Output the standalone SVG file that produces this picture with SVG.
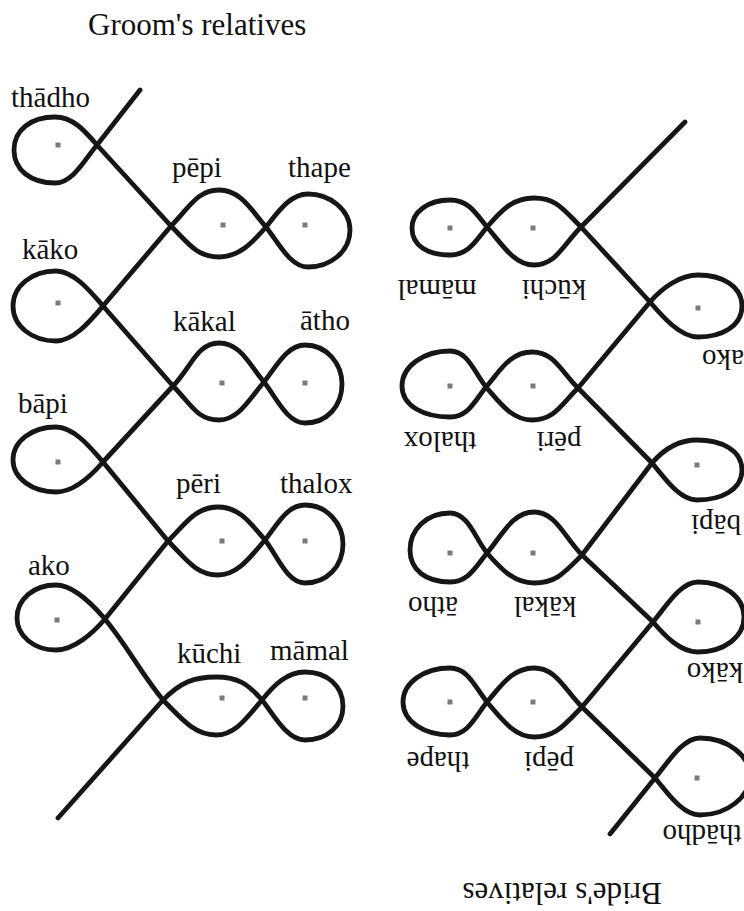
<svg xmlns="http://www.w3.org/2000/svg" width="744" height="911" viewBox="0 0 744 911">
  <style>
    .strand { fill: none; stroke: #161616; stroke-width: 4.8; stroke-linecap: round; stroke-linejoin: round; }
    .dot { fill: #7a7a7a; }
    .lbl { font-family: "Liberation Serif", "Times New Roman", serif; font-size: 29px; fill: #111; }
    .title { font-family: "Liberation Serif", "Times New Roman", serif; font-size: 31px; fill: #111; }
    .flip { text-anchor: middle; }
  </style>
  <rect width="744" height="911" fill="#ffffff"/>

  <!-- Groom's side (upright) -->
  <text class="title" x="88" y="35">Groom's relatives</text>

  <g id="connectors">
    <path class="strand" d="M140,90 L97,145 M97,145 L171,226 M171,226 L103,306 M103,306 L173,386 M173,386 L103,462 M103,462 L168,541 M168,541 L105,619 M105,619 C130,650 140,672 163,700 M163,700 L58,818"/>
    <path class="strand" d="M685,122 L581,227 M581,227 L650,302 M650,302 L578,388 M578,388 L652,463 M652,463 L582,555 M582,555 L653,622 M653,622 L582,707 M582,707 L655,778 M655,778 L610,834"/>
  </g>

  <g id="g-thadho">
    <path class="strand" d="M97,145 C85,159 73,183 55,183 C31,183 14,170 14,150 C14,130 31,117 55,117 C73,117 85,131 97,145"/>
    <rect class="dot" x="55.5" y="142.5" width="5" height="5"/>
    <text class="lbl" x="11" y="107">thādho</text>
  </g>
  <g id="g-pepi">
    <path class="strand" d="M171,226 C189,244 197,257 219,257 C239,257 252,243 266,227 C252,211 241,190 219,190 C197,190 189,208 171,226"/>
    <rect class="dot" x="220.5" y="222.5" width="5" height="5"/>
    <text class="lbl" x="172" y="177">pēpi</text>
  </g>
  <g id="g-thape">
    <path class="strand" d="M266,227 C278,212 290,194 308,194 C330,194 350,210 350,230 C350,252 330,267 308,267 C290,267 278,242 266,227"/>
    <rect class="dot" x="302.5" y="222.5" width="5" height="5"/>
    <text class="lbl" x="288" y="177">thape</text>
  </g>
  <g id="g-kako">
    <path class="strand" d="M103,306 C91,320 74,341 56,341 C32,341 13,326 13,306 C13,286 32,271 56,271 C74,271 91,292 103,306"/>
    <rect class="dot" x="55.5" y="300.5" width="5" height="5"/>
    <text class="lbl" x="22" y="259">kāko</text>
  </g>
  <g id="g-kakal">
    <path class="strand" d="M173,386 C191,404 197,420 219,420 C239,420 250,398 264,382 C250,366 241,343 219,343 C197,343 191,368 173,386"/>
    <rect class="dot" x="219.5" y="380.5" width="5" height="5"/>
    <text class="lbl" x="173" y="331">kākal</text>
  </g>
  <g id="g-atho">
    <path class="strand" d="M264,382 C276,367 287,345 305,345 C327,345 342,364 342,384 C342,406 327,423 305,423 C287,423 276,397 264,382"/>
    <rect class="dot" x="302.5" y="380.5" width="5" height="5"/>
    <text class="lbl" x="300" y="330">ātho</text>
  </g>
  <g id="g-bapi">
    <path class="strand" d="M103,462 C91,476 74,492 56,492 C32,492 13,478 13,460 C13,441 32,427 56,427 C74,427 91,448 103,462"/>
    <rect class="dot" x="55.5" y="459.5" width="5" height="5"/>
    <text class="lbl" x="18" y="413">bāpi</text>
  </g>
  <g id="g-peri">
    <path class="strand" d="M168,541 C186,559 196,575 218,575 C238,575 251,556 265,540 C251,524 240,507 218,507 C196,507 186,523 168,541"/>
    <rect class="dot" x="219.5" y="538.5" width="5" height="5"/>
    <text class="lbl" x="176" y="493">pēri</text>
  </g>
  <g id="g-thalox">
    <path class="strand" d="M265,540 C277,525 287,505 305,505 C327,505 343,524 343,544 C343,566 327,583 305,583 C287,583 277,555 265,540"/>
    <rect class="dot" x="302.5" y="538.5" width="5" height="5"/>
    <text class="lbl" x="280" y="493">thalox</text>
  </g>
  <g id="g-ako">
    <path class="strand" d="M105,619 C93,633 74,650 56,650 C34,650 17,636 17,618 C17,599 34,585 56,585 C74,585 93,605 105,619"/>
    <rect class="dot" x="54.5" y="617.5" width="5" height="5"/>
    <text class="lbl" x="28" y="575">ako</text>
  </g>
  <g id="g-kuchi">
    <path class="strand" d="M163,700 C181,718 194,735 216,735 C236,735 248,716 262,700 C248,684 238,677 216,677 C194,677 181,682 163,700"/>
    <rect class="dot" x="219.5" y="695.5" width="5" height="5"/>
    <text class="lbl" x="177" y="663">kūchi</text>
  </g>
  <g id="g-mamal">
    <path class="strand" d="M262,700 C274,685 287,672 305,672 C327,672 343,686 343,706 C343,726 327,740 305,740 C287,740 274,715 262,700"/>
    <rect class="dot" x="302.5" y="695.5" width="5" height="5"/>
    <text class="lbl" x="270" y="660">māmal</text>
  </g>

  <!-- Bride's side (turned half a circle) -->
  <text class="title flip" x="562" y="883" transform="rotate(180 562 883)">Bride's relatives</text>

  <g id="b-kuchi">
    <path class="strand" d="M581,227 C563,245 556,265 534,265 C514,265 501,243 487,227 C501,211 512,198 534,198 C556,198 563,209 581,227"/>
    <rect class="dot" x="530.5" y="225.5" width="5" height="5"/>
    <text class="lbl flip" x="554" y="280" transform="rotate(180 554 280)">kūchi</text>
  </g>
  <g id="b-mamal">
    <path class="strand" d="M487,227 C475,212 468,200 450,200 C428,200 412,212 412,228 C412,246 428,255 450,255 C468,255 475,242 487,227"/>
    <rect class="dot" x="447.5" y="225.5" width="5" height="5"/>
    <text class="lbl flip" x="437" y="280" transform="rotate(180 437 280)">māmal</text>
  </g>
  <g id="b-ako">
    <path class="strand" d="M650,302 C662,316 680,337 698,337 C722,337 742,326 742,306 C742,286 722,275 698,275 C680,275 662,288 650,302"/>
    <rect class="dot" x="695.5" y="305.5" width="5" height="5"/>
    <text class="lbl flip" x="723" y="350" transform="rotate(180 723 350)">ako</text>
  </g>
  <g id="b-peri">
    <path class="strand" d="M578,388 C560,406 554,420 532,420 C512,420 500,403 486,387 C500,371 510,352 532,352 C554,352 560,370 578,388"/>
    <rect class="dot" x="530.5" y="383.5" width="5" height="5"/>
    <text class="lbl flip" x="559" y="432" transform="rotate(180 559 432)">pēri</text>
  </g>
  <g id="b-thalox">
    <path class="strand" d="M486,387 C474,372 468,351 450,351 C424,351 402,366 402,386 C402,406 424,417 450,417 C468,417 474,402 486,387"/>
    <rect class="dot" x="447.5" y="383.5" width="5" height="5"/>
    <text class="lbl flip" x="440" y="432" transform="rotate(180 440 432)">thalox</text>
  </g>
  <g id="b-bapi">
    <path class="strand" d="M652,463 C664,477 679,500 697,500 C721,500 742,490 742,470 C742,450 721,440 697,440 C679,440 664,449 652,463"/>
    <rect class="dot" x="694.5" y="462.5" width="5" height="5"/>
    <text class="lbl flip" x="716" y="515" transform="rotate(180 716 515)">bāpi</text>
  </g>
  <g id="b-kakal">
    <path class="strand" d="M582,555 C564,573 556,583 534,583 C514,583 501,569 487,553 C501,537 512,512 534,512 C556,512 564,537 582,555"/>
    <rect class="dot" x="530.5" y="550.5" width="5" height="5"/>
    <text class="lbl flip" x="545" y="597" transform="rotate(180 545 597)">kākal</text>
  </g>
  <g id="b-atho">
    <path class="strand" d="M487,553 C475,538 468,513 450,513 C426,513 410,530 410,550 C410,570 426,582 450,582 C468,582 475,568 487,553"/>
    <rect class="dot" x="447.5" y="550.5" width="5" height="5"/>
    <text class="lbl flip" x="433" y="597" transform="rotate(180 433 597)">ātho</text>
  </g>
  <g id="b-kako">
    <path class="strand" d="M653,622 C665,636 680,652 698,652 C724,652 744,637 744,617 C744,597 724,582 698,582 C680,582 665,608 653,622"/>
    <rect class="dot" x="695.5" y="619.5" width="5" height="5"/>
    <text class="lbl flip" x="715" y="663" transform="rotate(180 715 663)">kāko</text>
  </g>
  <g id="b-pepi">
    <path class="strand" d="M582,707 C564,725 556,737 534,737 C514,737 501,718 487,702 C501,686 512,668 534,668 C556,668 564,689 582,707"/>
    <rect class="dot" x="530.5" y="699.5" width="5" height="5"/>
    <text class="lbl flip" x="549" y="752" transform="rotate(180 549 752)">pēpi</text>
  </g>
  <g id="b-thape">
    <path class="strand" d="M487,702 C475,687 468,668 450,668 C425,668 403,682 403,702 C403,722 425,735 450,735 C468,735 475,717 487,702"/>
    <rect class="dot" x="447.5" y="699.5" width="5" height="5"/>
    <text class="lbl flip" x="438" y="752" transform="rotate(180 438 752)">thape</text>
  </g>
  <g id="b-thadho">
    <path class="strand" d="M655,778 C667,792 682,815 700,815 C728,815 750,796 750,776 C750,756 728,738 700,738 C682,738 667,764 655,778"/>
    <rect class="dot" x="694.5" y="775.5" width="5" height="5"/>
    <text class="lbl flip" x="702" y="825" transform="rotate(180 702 825)">thādho</text>
  </g>
</svg>
